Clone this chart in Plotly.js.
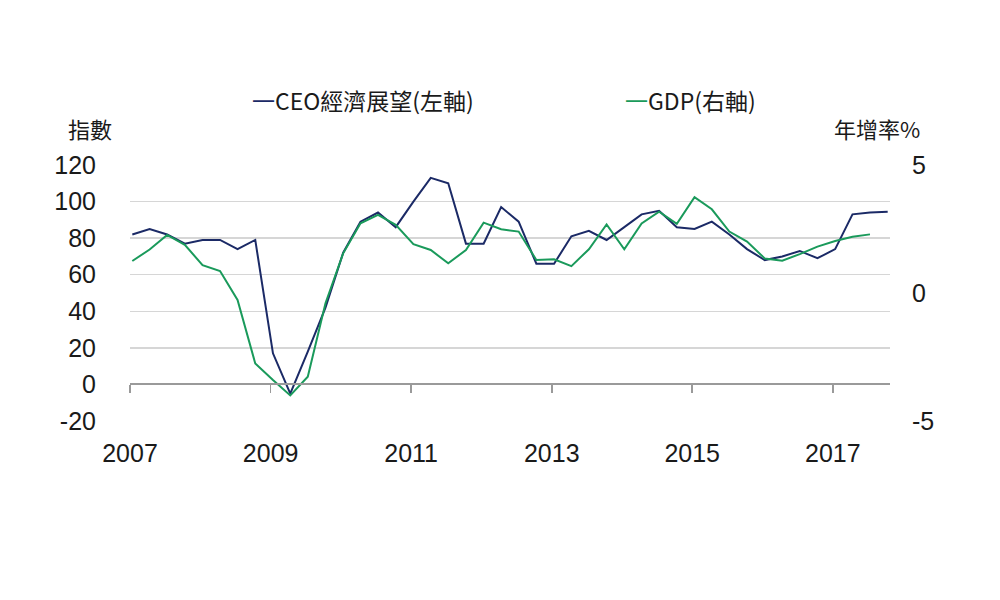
<!DOCTYPE html>
<html>
<head>
<meta charset="utf-8">
<script src="https://cdn.plot.ly/plotly-3.0.1.min.js"></script>
<style>
  html, body { margin: 0; padding: 0; background: #ffffff; }
  #chart { width: 1000px; height: 600px; }
</style>
</head>
<body>
<div id="chart"></div>
<script>
// Quarterly dates (2007Q1 - 2017Q4)
const quarters = [
  "2007-01-13","2007-04-13","2007-07-13","2007-10-13",
  "2008-01-13","2008-04-13","2008-07-13","2008-10-13",
  "2009-01-13","2009-04-13","2009-07-13","2009-10-13",
  "2010-01-13","2010-04-13","2010-07-13","2010-10-13",
  "2011-01-13","2011-04-13","2011-07-13","2011-10-13",
  "2012-01-13","2012-04-13","2012-07-13","2012-10-13",
  "2013-01-13","2013-04-13","2013-07-13","2013-10-13",
  "2014-01-13","2014-04-13","2014-07-13","2014-10-13",
  "2015-01-13","2015-04-13","2015-07-13","2015-10-13",
  "2016-01-13","2016-04-13","2016-07-13","2016-10-13",
  "2017-01-13","2017-04-13","2017-07-13","2017-10-13"
];

// CEO economic outlook index (left axis)
const ceoIndex = [
  82, 85, 82, 77, 79, 79, 74, 79,
  17, -5, 18, 42, 72, 89, 94, 86,
  100, 113, 110, 77, 77, 97, 89, 66,
  66, 81, 84, 79, 86, 93, 95, 86,
  85, 89, 82, 74, 68, 70, 73, 69,
  74, 93, 94, 94.5
];

// GDP year-on-year growth % (right axis), through 2017Q3
const gdpGrowth = [
  1.25, 1.7, 2.27, 1.88, 1.09, 0.86, -0.27, -2.75,
  -3.4, -4.0, -3.27, -0.4, 1.55, 2.72, 3.05, 2.66,
  1.91, 1.68, 1.16, 1.68, 2.75, 2.49, 2.40, 1.29,
  1.32, 1.05, 1.71, 2.68, 1.71, 2.72, 3.18, 2.70,
  3.74, 3.27, 2.40, 2.01, 1.35, 1.26, 1.52, 1.81,
  2.03, 2.20, 2.29
];

const gdpDates = quarters.slice(0, gdpGrowth.length);

const xTickVals = ["2007-01-01","2009-01-01","2011-01-01","2013-01-01","2015-01-01","2017-01-01"];
const xTickText = ["2007","2009","2011","2013","2015","2017"];
const leftTickVals = [-20, 0, 20, 40, 60, 80, 100, 120];
const leftTickText = ["-20", "0", "20", "40", "60", "80", "100", "120"];
const rightTickVals = [-5, 0, 5];
const rightTickText = ["-5", "0", "5"];

const seriesNames = ["CEO經濟展望(左軸)", "GDP(右軸)"];
const navy = "#1b2a66";
const green = "#1a9a5b";
const tickFont = { family: "Liberation Sans, Arial, sans-serif", size: 25, color: "#1a1a1a" };
const cjkFont = { family: "Noto Sans CJK TC, sans-serif", size: 22, color: "#1a1a1a" };
const legendFont = { family: "Noto Sans CJK TC, sans-serif", size: 23, color: "#1a1a1a" };

const traces = [
  {
    x: quarters, y: ceoIndex, type: "scatter", mode: "lines",
    name: seriesNames[0], line: { color: navy, width: 2 }, xaxis: "x", yaxis: "y"
  },
  {
    x: gdpDates, y: gdpGrowth, type: "scatter", mode: "lines",
    name: seriesNames[1], line: { color: green, width: 2 }, xaxis: "x", yaxis: "y2"
  }
];

const layout = {
  width: 1000, height: 600,
  paper_bgcolor: "#ffffff", plot_bgcolor: "#ffffff",
  margin: { l: 130, r: 110, t: 165, b: 179 },
  showlegend: false,
  xaxis: {
    type: "date",
    range: ["2007-01-01", "2017-10-25"],
    anchor: "free", position: 20 / 140,
    showgrid: false, zeroline: false,
    showline: true, linecolor: "#9a9a9a", linewidth: 2,
    ticks: "outside", ticklen: 8, tickwidth: 1.5, tickcolor: "#9a9a9a",
    tickvals: xTickVals, ticktext: xTickText,
    tickfont: tickFont,
    ticklabelstandoff: 39
  },
  yaxis: {
    range: [-20, 120],
    tickvals: leftTickVals, ticktext: leftTickText,
    showgrid: true, gridcolor: "#d6d6d6", gridwidth: 1.5,
    zeroline: false, showline: false, ticks: "",
    tickfont: tickFont,
    ticklabelstandoff: 33
  },
  yaxis2: {
    range: [-5, 5],
    tickvals: rightTickVals, ticktext: rightTickText,
    overlaying: "y", side: "right", anchor: "x",
    showgrid: false, zeroline: false, showline: false, ticks: "",
    tickfont: tickFont,
    ticklabelstandoff: 21
  },
  annotations: [
    {
      xref: "paper", yref: "paper", x: (66 - 130) / 760, y: (421 - 128) / 256,
      xanchor: "left", yanchor: "middle", showarrow: false,
      text: "指數", font: cjkFont
    },
    {
      xref: "paper", yref: "paper", x: (922 - 130) / 760, y: (421 - 128) / 256,
      xanchor: "right", yanchor: "middle", showarrow: false,
      text: "年增率%", font: cjkFont
    },
    {
      xref: "paper", yref: "paper", x: (250 - 130) / 760, y: (421 - 100) / 256,
      xanchor: "left", yanchor: "middle", showarrow: false,
      text: '<span style="color:' + navy + '">一</span>' + "CEO經濟展望(左軸)", font: legendFont
    },
    {
      xref: "paper", yref: "paper", x: (623 - 130) / 760, y: (421 - 100) / 256,
      xanchor: "left", yanchor: "middle", showarrow: false,
      text: '<span style="color:' + green + '">一</span>' + "GDP(右軸)", font: legendFont
    }
  ]
};

Plotly.newPlot("chart", traces, layout, { staticPlot: true, displayModeBar: false });
</script>
</body>
</html>
